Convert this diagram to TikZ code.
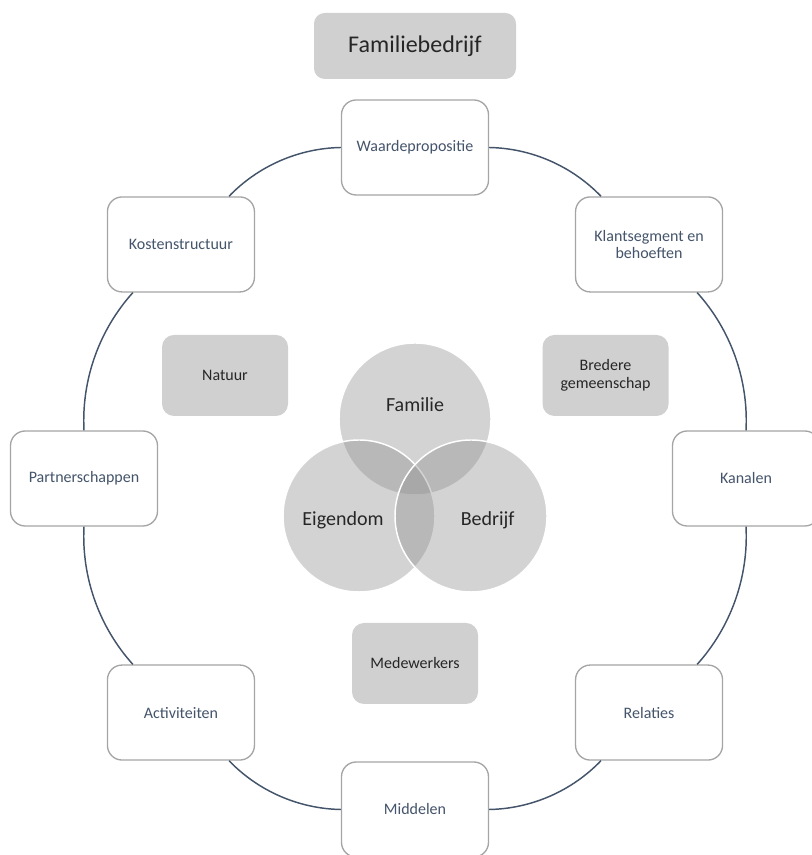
\documentclass[tikz,border=0pt]{standalone}
\usepackage{fontspec}
\setmainfont{Carlito}
\usetikzlibrary{positioning}
\definecolor{L}{RGB}{68,84,106}
\definecolor{R}{RGB}{165,165,165}
\definecolor{G}{RGB}{208,208,208}
\definecolor{T}{RGB}{38,38,38}
\def\Radius{331}

\begin{document}
\begin{tikzpicture}[x=0.75pt,y=0.75pt,
    bmcbox/.style={draw=R,line width=1pt,fill=white,rounded corners=11pt,minimum width=110.25pt,minimum height=71.25pt,inner sep=2pt,text=L,align=center,font=\fontsize{12}{13}\selectfont},
    grijsbox/.style={fill=G,rounded corners=9pt,minimum width=94.5pt,minimum height=60.75pt,inner sep=2pt,text=T,align=center,font=\fontsize{12}{13.5}\selectfont},
    venn/.style={circle,minimum size=114pt,inner sep=0pt,fill=black!45,fill opacity=0.38,draw=white,line width=1.1pt},
    venntext/.style={text=T,font=\fontsize{15}{18}\selectfont},
    ring/.style={L,line width=1.1pt}]
    \path[use as bounding box] (0,0) rectangle (812,855);
    \coordinate (M) at (415,376.5);
    \node[grijsbox,minimum width=151.5pt,minimum height=49.5pt,rounded corners=8pt,font=\fontsize{18}{21}\selectfont] (titel) at (415,809) {Familiebedrijf};
    \foreach \A/\N/\T in {90/wp/Waardepropositie,45/ks/{Klantsegment en\\behoeften},0/ka/Kanalen,-45/re/Relaties,-90/mi/Middelen,-135/ac/Activiteiten,180/pa/Partnerschappen,135/ko/Kostenstructuur} {
        \node[bmcbox] (\N) at ([shift={(\A:\Radius)}]M) {\T};
    }
    \foreach \a/\b in {wp/ks,ks/ka,ka/re,re/mi,mi/ac,ac/pa,pa/ko,ko/wp} {\draw[ring] (\a) to[bend left=22.5,looseness=.885] (\b);}
    \node[grijsbox] (natuur) at (225,479.5) {Natuur};
    \node[grijsbox] (gemeenschap) at (605.5,479.5) {Bredere\\gemeenschap};
    \node[grijsbox] (medewerkers) at (415,191.5) {Medewerkers};
    % venn
    \node[venn] (familie) at (415,436) {};
    \node[venn] (eigendom) at (359,339) {};
    \node[venn] (bedrijf) at (471,339) {};
    \node[venntext] at ([yshift=10.5pt]familie) {Familie};
    \node[venntext] at ([shift={(-12pt,-3pt)}]eigendom) {Eigendom};
    \node[venntext] at ([shift={(12.5pt,-3pt)}]bedrijf) {Bedrijf};
\end{tikzpicture}
\end{document}
